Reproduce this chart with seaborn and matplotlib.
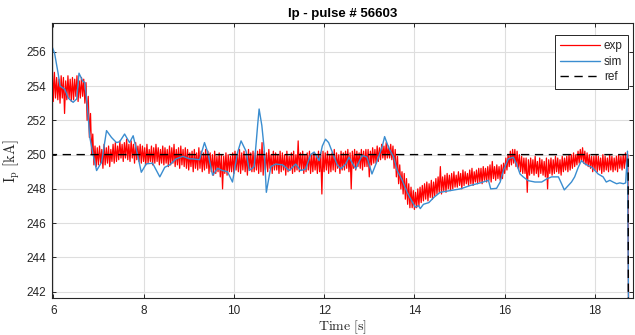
import numpy as np
import matplotlib
matplotlib.use("Agg")
import matplotlib.pyplot as plt
import seaborn as sns

# ---- measured plasma current (exp) ----
# min/max envelope of the raw trace in consecutive 50 ms windows from 5.95 s
exp_start, exp_step = 5.95, 0.05
exp_hi = [
    255.2, 254.8, 254.5, 254.4, 254.6, 254.5, 254.3, 254.6, 254.4, 254.5,
    254.4, 254.6, 254.3, 254.5, 254.4, 254.2, 253.4, 252.4, 251.2, 250.5,
    250.4, 250.5, 250.3, 250.6, 250.4, 250.5, 250.3, 250.6, 250.7, 250.5,
    250.8, 250.6, 250.7, 250.9, 250.6, 250.8, 250.6, 250.7, 250.5, 250.6,
    250.5, 250.4, 250.6, 250.3, 250.5, 250.4, 250.6, 250.4, 250.3, 250.5,
    250.4, 250.3, 250.5, 250.4, 250.6, 250.3, 250.4, 250.5, 250.3, 250.4,
    250.3, 250.1, 250.2, 250.3, 250.1, 250.4, 250.2, 250.1, 250.3, 250.2,
    250.1, 250.0, 250.2, 249.9, 250.1, 250.0, 249.9, 250.1, 250.0, 249.9,
    250.1, 250.2, 250.0, 250.3, 250.1, 250.2, 250.0, 250.3, 250.1, 250.2,
    250.1, 250.2, 250.3, 250.7, 250.2, 250.1, 250.3, 250.0, 250.2, 250.1,
    250.0, 250.2, 250.1, 250.0, 250.2, 249.9, 250.1, 250.2, 250.0, 250.8,
    250.1, 250.2, 250.0, 250.1, 250.2, 250.0, 250.1, 249.9, 250.2, 250.1,
    250.2, 250.1, 250.2, 250.0, 250.1, 250.3, 250.1, 250.0, 250.2, 250.1,
    250.2, 250.3, 250.1, 250.2, 250.3, 250.2, 250.1, 250.3, 250.2, 250.3,
    250.3, 250.2, 250.4, 250.3, 250.5, 250.4, 250.6, 250.5, 250.7, 250.5,
    250.6, 250.5, 250.3, 249.9, 249.4, 249.0, 248.9, 248.6, 248.3, 248.1,
    247.9, 247.8, 248.0, 248.1, 248.2, 248.3, 248.4, 248.3, 248.5, 248.4,
    248.6, 248.7, 249.3, 248.7, 248.8, 248.9, 248.8, 248.9, 249.0, 248.8,
    249.0, 248.9, 249.1, 249.0, 248.9, 249.1, 249.2, 249.0, 249.1, 249.2,
    249.2, 249.3, 249.2, 249.3, 249.4, 249.6, 249.3, 249.4, 249.3, 249.4,
    249.5, 249.8, 250.0, 250.2, 250.3, 250.3, 250.2, 250.0, 249.9, 249.8,
    249.8, 249.7, 249.8, 249.7, 249.9, 249.6, 249.8, 249.7, 249.6, 249.8,
    249.7, 249.8, 249.7, 249.9, 249.8, 249.7, 249.9, 249.8, 249.9, 250.0,
    250.0, 250.1, 250.0, 250.2, 250.3, 250.4, 250.2, 250.1, 250.0, 249.9,
    249.9, 250.0, 249.9, 249.8, 250.0, 249.9, 249.8, 250.0, 249.9, 249.8,
    249.9, 250.0, 249.9, 250.0, 250.1, 250.0,
]
exp_lo = [
    253.4, 253.1, 253.3, 253.2, 253.0, 253.3, 252.4, 253.2, 253.3, 253.1,
    253.2, 253.4, 253.1, 253.3, 253.4, 253.0, 252.0, 251.0, 250.0, 249.4,
    249.3, 249.4, 249.5, 249.2, 249.4, 249.5, 249.3, 249.6, 249.5, 249.6,
    249.7, 249.8, 249.6, 249.8, 249.7, 249.6, 249.8, 249.5, 249.7, 249.6,
    249.5, 249.6, 249.4, 249.5, 249.6, 249.4, 249.5, 249.6, 249.4, 249.5,
    249.4, 249.5, 249.3, 249.4, 249.5, 249.3, 249.4, 249.2, 249.4, 249.3,
    249.2, 249.1, 249.3, 249.0, 249.2, 249.1, 249.2, 249.0, 249.1, 249.2,
    248.9, 249.0, 248.8, 248.9, 249.0, 248.7, 248.0, 248.9, 248.8, 249.0,
    249.0, 248.9, 249.1, 249.0, 248.9, 249.1, 249.0, 248.8, 249.1, 249.0,
    249.0, 249.1, 248.9, 249.0, 248.8, 249.1, 249.0, 249.2, 248.9, 249.1,
    249.1, 248.9, 249.0, 249.1, 248.8, 249.0, 249.1, 248.9, 249.0, 249.1,
    249.0, 249.1, 248.9, 249.0, 249.1, 248.9, 249.0, 249.1, 248.9, 249.0,
    247.7, 249.0, 249.1, 248.9, 249.0, 249.1, 249.0, 249.2, 248.9, 249.1,
    249.1, 249.2, 249.0, 248.0, 249.2, 249.1, 249.3, 249.2, 249.1, 249.3,
    249.3, 248.7, 249.4, 249.5, 249.5, 249.6, 249.7, 249.8, 249.7, 249.8,
    249.8, 249.7, 249.2, 248.7, 248.3, 248.0, 247.7, 247.4, 247.1, 246.9,
    246.9, 246.8, 246.9, 247.0, 247.2, 247.3, 247.4, 247.3, 247.5, 247.4,
    247.6, 247.7, 247.8, 247.7, 247.9, 247.8, 248.0, 247.9, 248.0, 248.1,
    248.1, 248.2, 248.0, 248.2, 248.3, 248.2, 248.3, 248.2, 248.4, 248.3,
    248.4, 248.3, 248.5, 248.4, 248.5, 248.4, 248.6, 248.5, 248.6, 248.5,
    248.6, 248.9, 249.1, 249.3, 249.4, 249.5, 249.3, 249.2, 249.0, 248.9,
    248.9, 247.8, 248.8, 248.9, 248.8, 248.9, 248.7, 248.9, 248.8, 248.7,
    248.0, 248.9, 248.8, 248.9, 249.0, 248.9, 248.8, 249.0, 249.1, 249.0,
    249.1, 249.2, 249.3, 249.4, 249.5, 249.6, 249.5, 249.4, 249.3, 249.2,
    249.0, 249.1, 249.0, 249.1, 248.9, 249.0, 249.1, 249.0, 249.1, 249.0,
    249.1, 249.0, 249.2, 249.1, 249.2, 249.3,
]
# pulse termination
exp_tail_t = [18.73, 18.745]
exp_tail_ip = [249.5, 240.0]

# ---- simulated plasma current (sim) ----
sim_t = [
    5.95, 5.965, 6.03, 6.11, 6.15, 6.26, 6.33, 6.44, 6.52, 6.57,
    6.65, 6.70, 6.75, 6.81, 6.88, 6.96, 7.07, 7.18, 7.29, 7.40,
    7.47, 7.58, 7.69, 7.77, 7.85, 7.95, 8.06, 8.20, 8.36, 8.47,
    8.58, 8.72, 8.87, 9.02, 9.09, 9.24, 9.35, 9.42, 9.53, 9.64,
    9.75, 9.86, 9.97, 10.08, 10.16, 10.27, 10.34, 10.45, 10.53, 10.56,
    10.62, 10.67, 10.72, 10.82, 10.93, 11.08, 11.23, 11.37, 11.48, 11.59,
    11.70, 11.78, 11.89, 11.96, 12.03, 12.10, 12.18, 12.29, 12.37, 12.48,
    12.55, 12.70, 12.84, 12.95, 13.06, 13.17, 13.29, 13.34, 13.43, 13.54,
    13.62, 13.73, 13.84, 13.95, 14.02, 14.09, 14.13, 14.20, 14.32, 14.43,
    14.57, 14.80, 15.02, 15.24, 15.46, 15.64, 15.69, 15.82, 15.90, 15.97,
    16.08, 16.19, 16.27, 16.34, 16.41, 16.52, 16.67, 16.82, 16.93, 17.04,
    17.19, 17.26, 17.32, 17.41, 17.48, 17.55, 17.63, 17.70, 17.78, 17.93,
    18.07, 18.18, 18.25, 18.33, 18.40, 18.48, 18.55, 18.63, 18.68, 18.72,
    18.745,
]
sim_ip = [
    256.5, 256.36, 255.9, 254.7, 254.0, 253.8, 253.3, 253.05, 253.25, 254.75,
    254.3, 254.2, 252.95, 251.0, 250.04, 249.07, 249.55, 251.4, 251.0, 250.7,
    250.75, 251.2, 250.7, 251.1, 250.2, 248.97, 249.46, 249.5, 248.7, 249.26,
    249.4, 249.75, 249.9, 249.75, 249.75, 249.7, 250.7, 250.15, 248.8, 249.2,
    249.07, 249.0, 248.4, 250.1, 250.8, 250.2, 249.07, 249.3, 251.8, 252.66,
    251.7, 250.4, 247.8, 249.3, 249.45, 249.4, 249.07, 249.45, 249.07, 249.15,
    250.0, 250.15, 249.65, 250.5, 250.9, 250.7, 250.15, 249.4, 249.17, 249.45,
    249.85, 249.17, 249.95, 249.85, 248.87, 249.6, 250.5, 251.05, 250.4, 249.85,
    249.07, 248.5, 247.8, 247.25, 246.93, 247.03, 246.85, 247.1, 247.2, 247.5,
    247.8, 247.9, 248.0, 248.2, 248.35, 248.5, 248.0, 248.03, 248.4, 249.07,
    249.75, 249.85, 249.4, 248.87, 248.7, 248.48, 248.4, 248.4, 248.58, 248.7,
    248.7, 248.3, 247.94, 248.2, 248.4, 248.7, 249.26, 249.65, 249.45, 249.26,
    248.87, 248.7, 248.4, 248.5, 248.4, 248.3, 248.35, 248.3, 248.35, 250.2,
    240.0,
]

# ---- reference waveform (ref) ----
ref_t = [5.9, 18.735, 18.74]
ref_ip = [250.0, 250.0, 240.0]

x_ticks = [6, 8, 10, 12, 14, 16, 18]
y_ticks = [242, 244, 246, 248, 250, 252, 254, 256]
title = "Ip - pulse # 56603"

# interleave each window's minimum and maximum into one trace
win_t = exp_start + exp_step * np.arange(len(exp_hi))
env_t = np.column_stack([win_t, win_t + exp_step / 2]).ravel()
env_v = np.column_stack([exp_lo, exp_hi]).ravel()
exp_t = np.r_[env_t, exp_tail_t]
exp_v = np.r_[env_v, exp_tail_ip]

sns.set_theme(style="whitegrid")
plt.rcParams["font.family"] = ["Liberation Sans", "DejaVu Sans"]
plt.rcParams["mathtext.fontset"] = "cm"

ink = "#262626"
fig = plt.figure(figsize=(6.35, 3.35), dpi=100)
ax = fig.add_axes([0.0814, 0.1113, 0.9969 - 0.0814, 0.9299 - 0.1113])
ax.set_facecolor("white")

sns.lineplot(x=exp_t, y=exp_v, ax=ax, color="#ff0000", lw=0.9,
             estimator=None, sort=False, label="exp")
sns.lineplot(x=sim_t, y=sim_ip, ax=ax, color="#3a8dd0", lw=1.0,
             estimator=None, sort=False, label="sim")
sns.lineplot(x=ref_t, y=ref_ip, ax=ax, color="black", lw=1.0,
             estimator=None, sort=False, label="ref")
ax.lines[-1].set_dashes((6, 4))

ax.set_xlim(5.965, 18.843)
ax.set_ylim(241.65, 257.65)
ax.set_xticks(x_ticks)
ax.set_yticks(y_ticks)

ax.grid(True, color="#dedede", lw=0.8)
ax.set_axisbelow(True)
for s in ax.spines.values():
    s.set_visible(True)
    s.set_color(ink)
    s.set_linewidth(0.8)

ax.tick_params(axis="both", which="major", direction="in", length=3,
               width=0.7, color=ink, labelcolor=ink, labelsize=8.5,
               top=True, right=True, bottom=True, left=True)
ax.tick_params(axis="x", pad=5.5)
ax.tick_params(axis="y", pad=4)

ax.set_xlabel(r"$\mathrm{Time\ [s]}$", fontsize=10, color=ink, labelpad=0.5)
ax.set_ylabel(r"$\mathrm{I_p\ [kA]}$", fontsize=10.5, color=ink, labelpad=3)
ax.set_title(title, fontsize=9.5, fontweight="bold", color="black", pad=5)

leg = ax.legend(loc="upper right", bbox_to_anchor=(628 / 635, 1 - 35 / 335),
                bbox_transform=fig.transFigure, borderaxespad=0,
                fontsize=8.5, frameon=True, fancybox=False, framealpha=1,
                handlelength=3.4, handletextpad=0.3, borderpad=0.45,
                labelspacing=0.3)
leg.get_frame().set_edgecolor(ink)
leg.get_frame().set_linewidth(0.7)
for t in leg.get_texts():
    t.set_color(ink)

fig.savefig("out.png", dpi=100)
